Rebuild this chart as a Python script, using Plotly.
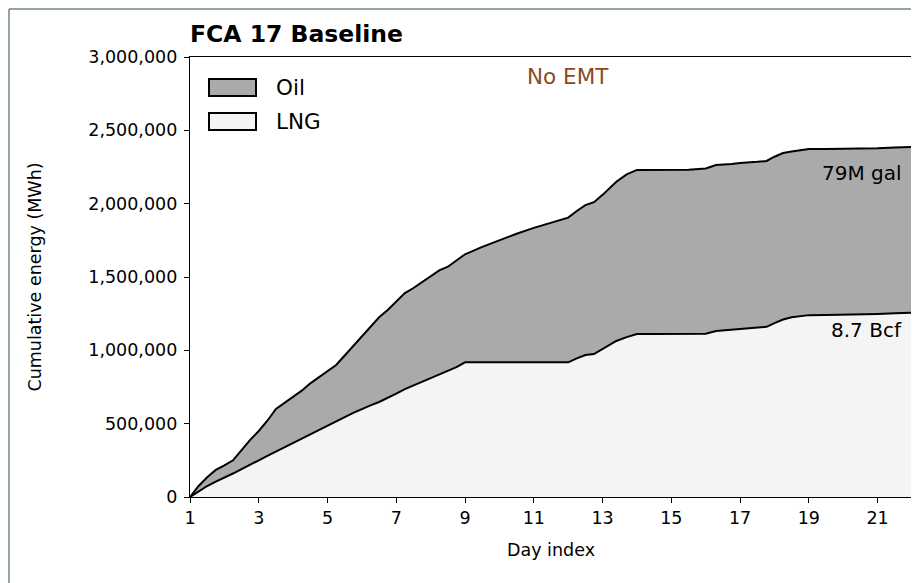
import plotly.graph_objects as go

days = [1.0, 1.25, 1.5, 1.75, 2.0, 2.25, 2.5, 2.75, 3.0, 3.25, 3.5, 3.75, 4.0, 4.25, 4.5, 4.75,
        5.0, 5.25, 5.5, 5.75, 6.0, 6.25, 6.5, 6.75, 7.0, 7.25, 7.5, 7.75, 8.0, 8.25, 8.5, 8.75,
        9.0, 9.5, 10.0, 10.5, 11.0, 11.5, 12.0, 12.25, 12.5, 12.75, 13.0, 13.4, 13.7, 14.0,
        14.5, 15.0, 15.5, 16.0, 16.3, 16.75, 17.0, 17.5, 17.77, 18.0, 18.25, 18.5, 19.0,
        19.5, 20.0, 20.5, 21.0, 21.5, 22.0]

total_mwh = [0, 75000, 135000, 185000, 215000, 250000, 320000, 390000, 450000, 520000, 600000,
             640000, 680000, 725000, 775000, 815000, 855000, 900000, 965000, 1030000, 1095000,
             1160000, 1225000, 1275000, 1330000, 1390000, 1425000, 1465000, 1510000, 1545000,
             1570000, 1610000, 1655000, 1705000, 1752000, 1795000, 1835000, 1870000, 1905000,
             1950000, 1990000, 2010000, 2060000, 2150000, 2200000, 2230000, 2232000, 2232000,
             2232000, 2240000, 2264000, 2270000, 2278000, 2285000, 2291000, 2320000, 2345000,
             2355000, 2372000, 2372000, 2373000, 2375000, 2378000, 2383000, 2386000]

lng_mwh = [0, 40000, 75000, 105000, 130000, 160000, 190000, 222000, 250000, 280000, 310000,
           338000, 370000, 398000, 428000, 457000, 485000, 515000, 545000, 573000, 600000,
           625000, 648000, 675000, 705000, 735000, 760000, 785000, 815000, 835000, 860000,
           885000, 918000, 918000, 918000, 918000, 918000, 918000, 918000, 945000, 968000,
           975000, 1010000, 1064000, 1090000, 1111000, 1111000, 1111000, 1111000, 1113000,
           1132000, 1140000, 1145000, 1155000, 1160000, 1185000, 1210000, 1225000, 1240000,
           1241000, 1242000, 1245000, 1248000, 1252000, 1256000]

oil_mwh = [t - l for t, l in zip(total_mwh, lng_mwh)]

x_ticks = [1, 3, 5, 7, 9, 11, 13, 15, 17, 19, 21]
y_ticks = [0, 500000, 1000000, 1500000, 2000000, 2500000, 3000000]

legend_names = ["Oil", "LNG"]
legend_fills = ["#aaaaaa", "#f4f4f4"]

FONT = "DejaVu Sans"
W, H = 911, 575
L, R, T, B = 182, 7, 49, 86
PW, PH = W - L - R, H - T - B

def px(xpix):  # page x pixel -> paper coordinate
    return (xpix - 8 - L) / PW

def py(ypix):  # page y pixel -> paper coordinate
    return (H - B - (ypix - 8)) / PH

fig = go.Figure()
fig.add_trace(go.Scatter(x=days, y=lng_mwh, name="LNG", stackgroup="one", mode="lines",
                         line=dict(color="black", width=2), fillcolor=legend_fills[1],
                         showlegend=False))
fig.add_trace(go.Scatter(x=days, y=oil_mwh, name="Oil", stackgroup="one", mode="lines",
                         line=dict(color="black", width=2), fillcolor=legend_fills[0],
                         showlegend=False))

axis_common = dict(showline=True, linecolor="black", linewidth=1.3, mirror=True,
                   ticks="outside", ticklen=5, tickwidth=1.2, tickcolor="black",
                   showgrid=False, zeroline=False,
                   tickfont=dict(family=FONT, size=17.5, color="black"))

fig.update_layout(
    width=W, height=H,
    margin=dict(l=L, r=R, t=T, b=B),
    paper_bgcolor="white", plot_bgcolor="white",
    font=dict(family=FONT, size=17, color="black"),
    showlegend=False,
    title=dict(text="<b>FCA 17 Baseline</b>", x=L / W, xanchor="left",
               y=1 - 26 / H, yanchor="middle",
               font=dict(family=FONT, size=23.5, color="black")),
    xaxis=dict(range=[1, 22], tickvals=x_ticks,
               title=dict(text="Day index", font=dict(family=FONT, size=17.5), standoff=16),
               **axis_common),
    yaxis=dict(range=[0, 3000000], tickvals=y_ticks, tickformat=",d",
               ticklabelstandoff=3,
               title=dict(text="Cumulative energy (MWh)", font=dict(family=FONT, size=17.5),
                          standoff=42),
               **axis_common),
)

# legend drawn as boxes + labels (matplotlib-style patches)
legend_rows = [(79, 96), (113, 130)]
for name, fill, (ya, yb) in zip(legend_names, legend_fills, legend_rows):
    fig.add_shape(type="rect", xref="paper", yref="paper",
                  x0=px(209), x1=px(256), y0=py(yb), y1=py(ya),
                  fillcolor=fill, line=dict(color="black", width=2))
    fig.add_annotation(x=px(274), y=py((ya + yb) / 2), xref="paper", yref="paper",
                       text=name, showarrow=False, xanchor="left", yanchor="middle",
                       font=dict(family=FONT, size=21.5, color="black"))

fig.add_annotation(x=px(568), y=py(77), xref="paper", yref="paper", text="No EMT",
                   showarrow=False, font=dict(family=FONT, size=21.5, color="#8b4a1e"),
                   xanchor="center", yanchor="middle")
fig.add_annotation(x=px(904), y=total_mwh[-1] - 177000, xref="paper", yref="y",
                   text="79M gal", showarrow=False,
                   font=dict(family=FONT, size=20, color="black"),
                   xanchor="right", yanchor="middle")
fig.add_annotation(x=px(904), y=lng_mwh[-1] - 117000, xref="paper", yref="y",
                   text="8.7 Bcf", showarrow=False,
                   font=dict(family=FONT, size=20, color="black"),
                   xanchor="right", yanchor="middle")

# outer frame (partially visible, as in the reference)
fig.add_shape(type="line", xref="paper", yref="paper", x0=px(9), x1=px(9), y0=-0.3,
              y1=py(9), line=dict(color="#6e8592", width=1.5))
fig.add_shape(type="line", xref="paper", yref="paper", x0=px(9), x1=1.1, y0=py(9),
              y1=py(9), line=dict(color="#6e8592", width=1.5))

fig.write_html("out.html")
